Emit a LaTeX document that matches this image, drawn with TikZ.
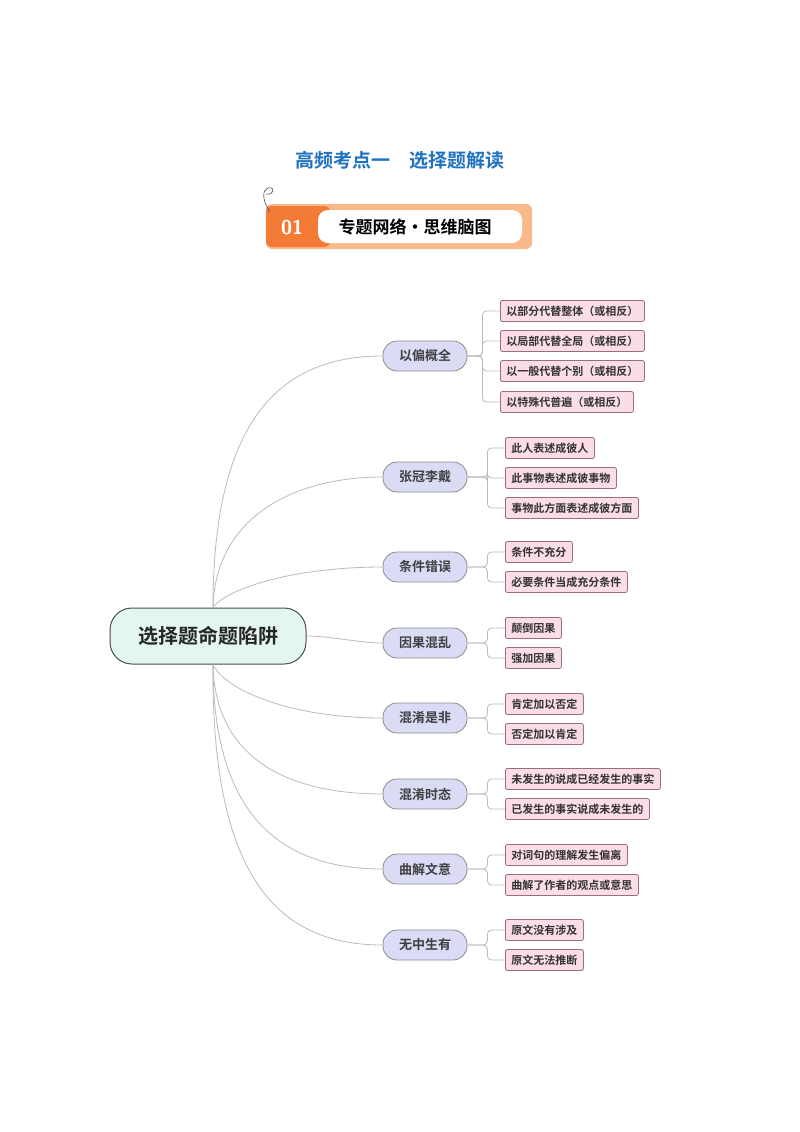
\documentclass[tikz,border=0pt]{standalone}
\usepackage{fontspec}
\newfontfamily\cjk{Noto Sans CJK SC}[BoldFont={Noto Sans CJK SC Bold}]
\definecolor{tblue}{HTML}{1E72C0}
\definecolor{orng}{HTML}{F47B36}
\definecolor{lorng}{HTML}{F9B98A}
\definecolor{rootf}{HTML}{E3F6F1}
\definecolor{catf}{HTML}{DADCF5}
\definecolor{leaff}{HTML}{FADDE6}
\definecolor{leafd}{HTML}{9A6F78}
\definecolor{ln}{HTML}{BBBBBB}
\begin{document}
\begin{tikzpicture}[x=1pt,y=-1pt,
  rootbox/.style={draw=black!70,line width=1pt,fill=rootf,rounded corners=22pt,minimum width=196pt,minimum height=56pt,font=\cjk\bfseries\fontsize{20}{22}\selectfont,text=black!85},
  catbox/.style={draw=black!45,line width=0.8pt,fill=catf,rounded corners=14pt,minimum width=84pt,minimum height=30pt,font=\cjk\bfseries\fontsize{13}{15}\selectfont,text=black!75},
  leafbox/.style={draw=leafd,line width=0.8pt,fill=leaff,rounded corners=2pt,minimum height=21pt,inner xsep=6pt,anchor=west,font=\cjk\bfseries\fontsize{11}{13}\selectfont,text=black!80},
  conn/.style={draw=ln,line width=0.8pt},
  brk/.style={draw=ln,line width=0.8pt,rounded corners=4pt}]
\useasboundingbox (0,0) rectangle (800,1132);
\fill[white] (0,0) rectangle (800,1132);
% title
\node[text=tblue,font=\cjk\bfseries\fontsize{19}{21}\selectfont] (title) at (400,160) {高频考点一\hspace{1em}选择题解读};
% banner
\fill[lorng,rounded corners=6pt] (266,204) rectangle (532,249);
\fill[orng,rounded corners=5pt] (266,206) rectangle (330,247);
\fill[white,rounded corners=10pt] (318,210) rectangle (522,243);
\node[text=white,font=\sffamily\bfseries\fontsize{20}{22}\selectfont] (num) at (292,228) {01};
\node[font=\cjk\bfseries\fontsize{17}{19}\selectfont] (btitle) at (415,227) {专题网络·思维脑图};
\draw[black!70,line width=0.6pt] (270,212) .. controls (262,200) and (262,190) .. (268,188) .. controls (276,186) and (274,196) .. (266,194);
% root
\node[rootbox] (root) at (208,636) {选择题命题陷阱};
% categories
\foreach \n/\y/\t in {c1/356/以偏概全,c2/477/张冠李戴,c3/567/条件错误,c4/643/因果混乱,c5/718/混淆是非,c6/794/混淆时态,c7/869/曲解文意,c8/945/无中生有}{
  \node[catbox] (\n) at (425,\y) {\t};
}
\draw[conn] (root.north) ++(5,0) coordinate (ru);
\draw[conn] (root.south) ++(5,0) coordinate (rd);
\draw[conn] (ru) .. controls (213,420) and (280,356) .. (c1.west);
\draw[conn] (ru) .. controls (215,520) and (290,477) .. (c2.west);
\draw[conn] (ru) .. controls (225,590) and (290,567) .. (c3.west);
\draw[conn] (root.east) .. controls (330,636) and (360,643) .. (c4.west);
\draw[conn] (rd) .. controls (225,690) and (290,718) .. (c5.west);
\draw[conn] (rd) .. controls (215,760) and (290,794) .. (c6.west);
\draw[conn] (rd) .. controls (213,820) and (285,869) .. (c7.west);
\draw[conn] (rd) .. controls (211,880) and (280,945) .. (c8.west);
% leaves
\foreach \p/\n/\x/\y/\t in {
 c1/l11/500/311/以部分代替整体（或相反）, c1/l12/500/341/以局部代替全局（或相反）, c1/l13/500/371/以一般代替个别（或相反）, c1/l14/500/402/以特殊代普遍（或相反）,
 c2/l21/505/448/此人表述成彼人, c2/l22/505/478/此事物表述成彼事物, c2/l23/505/508/事物此方面表述成彼方面,
 c3/l31/505/552/条件不充分, c3/l32/505/582/必要条件当成充分条件,
 c4/l41/505/628/颠倒因果, c4/l42/505/658/强加因果,
 c5/l51/505/704/肯定加以否定, c5/l52/505/734/否定加以肯定,
 c6/l61/505/779/未发生的说成已经发生的事实, c6/l62/505/809/已发生的事实说成未发生的,
 c7/l71/505/855/对词句的理解发生偏离, c7/l72/505/885/曲解了作者的观点或意思,
 c8/l81/505/930/原文没有涉及, c8/l82/505/960/原文无法推断}{
  \node[leafbox] (\n) at (\x,\y) {\t};
  \draw[brk] (\p.east) -- ++(\x-480-5,0) |- (\n.west);
}
\end{tikzpicture}
\end{document}
